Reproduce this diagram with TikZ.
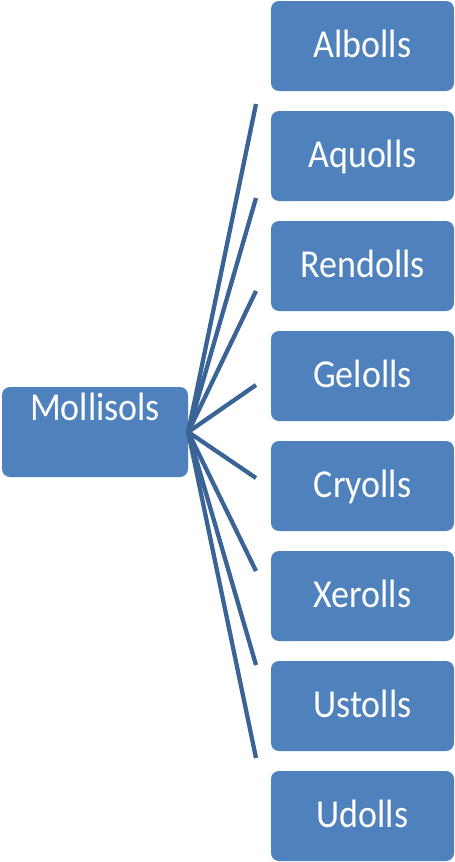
\documentclass[tikz,border=0pt]{standalone}
\usepackage{fontspec}
\setmainfont{Carlito}
\definecolor{boxblue}{HTML}{4F81BD}
\definecolor{linkblue}{HTML}{3B6496}
\newcommand{\tallt}[1]{\scalebox{1}[1.1]{#1}}
\begin{document}
\begin{tikzpicture}[x=1pt,y=-1pt,
  box/.style={fill=boxblue, rounded corners=8pt, minimum width=183pt, minimum height=90pt,
    inner sep=0pt, text=white, font=\fontsize{36}{40}\selectfont, text height=23pt, text depth=0pt},
  rootbox/.style={box, minimum width=186pt, text depth=47pt},
  link/.style={draw=linkblue, line width=4.3pt}]
\useasboundingbox (0,0) rectangle (455,862);
\node[rootbox] (moll) at (95,432) {\tallt{Mollisols}};
\node[box] (b1) at (362.5,46) {\tallt{Albolls}};
\node[box] (b2) at (362.5,156) {\tallt{Aquolls}};
\node[box] (b3) at (362.5,266) {\tallt{Rendolls}};
\node[box] (b4) at (362.5,376) {\tallt{Gelolls}};
\node[box] (b5) at (362.5,486) {\tallt{Cryolls}};
\node[box] (b6) at (362.5,596) {\tallt{Xerolls}};
\node[box] (b7) at (362.5,706) {\tallt{Ustolls}};
\node[box] (b8) at (362.5,816) {\tallt{Udolls}};
\coordinate (e1) at (256,104);
\coordinate (e2) at (256,198);
\coordinate (e3) at (256,291);
\coordinate (e4) at (256,385);
\coordinate (e5) at (256,478);
\coordinate (e6) at (256,571);
\coordinate (e7) at (256,665);
\coordinate (e8) at (256,758);
\foreach \i in {1,...,8} {\draw[link] (moll.east) -- (e\i);}
\end{tikzpicture}
\end{document}
